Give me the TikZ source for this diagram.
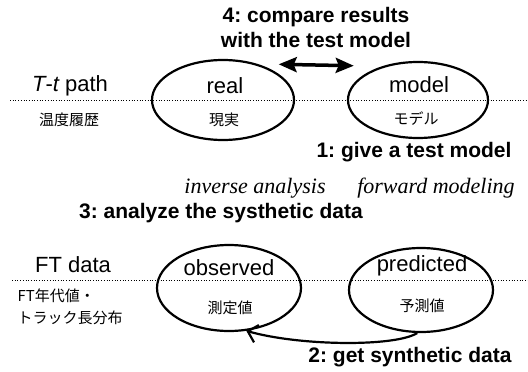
\documentclass[tikz,border=0pt]{standalone}
\usepackage{fontspec}
\newfontfamily\sansfont{Liberation Sans}
\newfontfamily\seriffont{Liberation Serif}
\newfontfamily\jpfont{Noto Sans CJK JP}
\usetikzlibrary{positioning,arrows,arrows.meta,shapes.geometric}
\frenchspacing
\tikzset{%
  oval/.style={draw, ellipse, line width=2.2pt, inner sep=0pt},% data ellipse
  divide/.style={dotted, line width=0.7pt},% dotted divide line
  word/.style={font=\sansfont\fontsize{22}{26}\selectfont},% english name
  kanji/.style={font=\jpfont\fontsize{15}{22}\selectfont},% japanese name
  stage/.style={font=\sansfont\bfseries\fontsize{21}{25}\selectfont, align=center},% numbered steps
  method/.style={font=\seriffont\itshape\fontsize{22}{26}\selectfont}% direction of analysis
}

\begin{document}
\begin{tikzpicture}[x=1pt,y=-1pt]
\useasboundingbox (0,0) rectangle (528,372);

% T-t path row
\draw[divide] (10,100) -- (528,100);
\node[oval, minimum width=142pt, minimum height=80pt] (real) at (223,100) {};
\node[oval, minimum width=140pt, minimum height=76pt] (model) at (418,100) {};
\node[word] (path) at (70,86) {{\itshape T}-{\itshape t} path};
\node[kanji] (pathjp) at (69,120) {温度履歴};
\node[word] (realtxt) at (225,86) {real};
\node[kanji] (realjp) at (224,120) {現実};
\node[word] (modeltxt) at (419,85) {model};
\node[kanji] (modeljp) at (416,119) {モデル};

% FT data row
\draw[divide] (12,280) -- (528,280);
\node[oval, minimum width=144pt, minimum height=86pt] (observed) at (229,288) {};
\node[oval, minimum width=144pt, minimum height=84pt] (predicted) at (421,290) {};
\node[word] (ftdata) at (73,265) {FT data};
\node[kanji, align=left, anchor=west] (ftjp) at (14,307) {FT年代値・\\トラック長分布};
\node[word] (obstxt) at (229,268) {observed};
\node[kanji] (obsjp) at (230,308) {測定値};
\node[word] (predtxt) at (422,266) {predicted};
\node[kanji] (predjp) at (422,306) {予測値};

% steps
\node[stage] (compare) at (316,27) {4: compare results\\with the test model};
\node[stage, anchor=east] (give) at (515,152) {1: give a test model};
\node[method] (inverse) at (255,188) {inverse analysis};
\node[method] (forward) at (436,188) {forward modeling};
\node[stage] (analyze) at (221,213) {3: analyze the systhetic data};
\node[stage] (get) at (410,357) {2: get synthetic data};

\draw[{Stealth[length=18pt,width=15pt,inset=3pt]}-{Stealth[length=18pt,width=15pt,inset=3pt]}, line width=3.5pt]
  ([xshift=20pt]real.45) -- ([xshift=-30pt]model.135);
\draw[-{Straight Barb[length=9pt,width=18pt]}, line width=2.2pt]
  (predicted.-95) .. controls (395,347) and (300,346) .. (observed.-68);
\end{tikzpicture}
\end{document}
